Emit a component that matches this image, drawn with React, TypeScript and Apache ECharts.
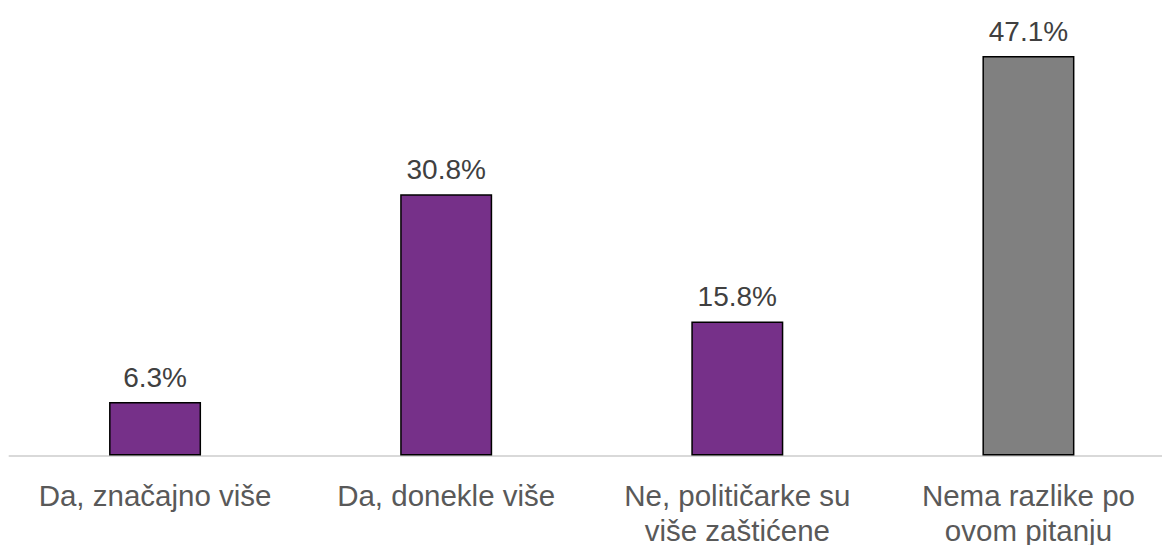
import React, { useEffect, useRef } from "react";
import * as echarts from "echarts";

const categories = ["Da, značajno više", "Da, donekle više", "Ne, političarke su\nviše zaštićene", "Nema razlike po\novom pitanju"];
const values = [6.3, 30.8, 15.8, 47.1];
const colors = ["#763089", "#763089", "#763089", "#808080"];

export default function App() {
  const ref = useRef<HTMLDivElement>(null);
  useEffect(() => {
    const chart = echarts.init(ref.current!, null, { renderer: "svg" });
    chart.setOption({
      animation: false,
      grid: { left: 9.5, right: 0, top: 31.5, bottom: 89.5, containLabel: false, outerBoundsMode: "none" },
      xAxis: {
        type: "category",
        data: categories,
        axisLine: { lineStyle: { color: "#D9D9D9", width: 2 } },
        axisTick: { show: false },
        axisLabel: {
          color: "#595959",
          fontSize: 29.5,
          fontFamily: "Liberation Sans",
          lineHeight: 35,
          margin: 22,
          interval: 0,
        },
      },
      yAxis: {
        type: "value",
        min: 0,
        max: 50,
        show: false,
        splitLine: { show: false },
      },
      series: [
        {
          type: "bar",
          data: values.map((v, i) => ({ value: v, itemStyle: { color: colors[i] } })),
          barWidth: "31.6%",
          itemStyle: { borderColor: "#000000", borderWidth: 1.5 },
          label: {
            show: true,
            position: "top",
            distance: 11,
            color: "#404040",
            fontSize: 28,
            fontFamily: "Liberation Sans",
            formatter: (p: any) => p.value.toFixed(1) + "%",
          },
        },
      ],
    });
    return () => chart.dispose();
  }, []);
  return (
    <div style={{ width: 1162, height: 545, position: "absolute", left: 0, top: 0, overflow: "hidden" }}>
      <div ref={ref} style={{ width: 1174, height: 545 }} />
    </div>
  );
}
